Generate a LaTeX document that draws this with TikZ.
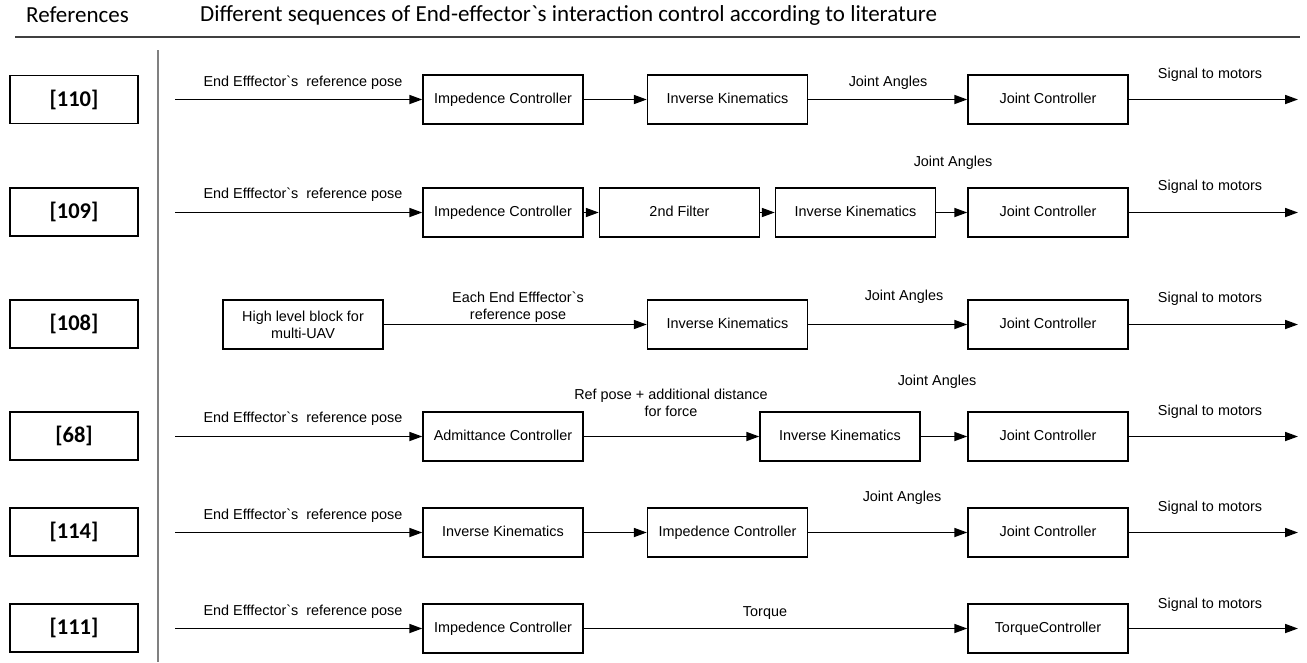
\documentclass[tikz,border=0pt]{standalone}
\usepackage{fontspec}
\setmainfont{Liberation Sans}
\newfontfamily\hdr{Carlito}
\usetikzlibrary{arrows.meta}
\newcommand{\EE}{End Efffector\textasciigrave s\ \ reference pose}
\begin{document}
\begin{tikzpicture}[x=1pt,y=-1pt,
 blkbase/.style={draw=black,line width=1.4pt,minimum width=160pt,minimum height=49pt,inner sep=0pt,font=\fontsize{14.4}{17}\selectfont,align=center},
 blk/.style={blkbase,text height=10.5pt,text depth=3pt},
 refbox/.style={draw=black,line width=1.4pt,minimum width=128pt,minimum height=48pt,inner sep=0pt,font=\hdr\bfseries\fontsize{22.5}{26}\selectfont},
 lbl/.style={font=\fontsize{14.4}{17}\selectfont,align=center,inner sep=0pt},
 hd/.style={font=\hdr\fontsize{23}{27}\selectfont,inner sep=0pt},
 flow/.style={line width=1.7pt,-{Triangle[length=13pt,width=9pt]}},
]
\useasboundingbox (0,0) rectangle (1307,662);
% header
\node[hd] (hRef) at (77.5,15) {References};
\node[hd,anchor=west] (hDiff) at (200,15) {Different sequences of End-effector\textasciigrave s interaction control according to literature};
\coordinate (hl1) at (15,37);
\coordinate (hl2) at (1300,37);
\draw[line width=1.2pt,black!75] (hl1) -- (hl2);
\coordinate (vl1) at (158,50);
\coordinate (vl2) at (158,662);
\draw[line width=1.5pt,black!50] (vl1) -- (vl2);
% reference boxes
\node[refbox] (r110) at (74,99.5) {[110]};
\node[refbox] (r109) at (74,212) {[109]};
\node[refbox] (r108) at (74,324) {[108]};
\node[refbox] (r68) at (74,436) {[68]};
\node[refbox] (r114) at (74,532) {[114]};
\node[refbox] (r111) at (74,628) {[111]};
% row 1
\coordinate (s1) at (175,99.5);
\node[blk] (a1) at (503,99.5) {Impedence Controller};
\node[blk] (b1) at (727.5,99.5) {Inverse Kinematics};
\node[blk] (c1) at (1048,99.5) {Joint Controller};
\coordinate (e1) at (1298,99.5);
\draw[flow] (s1) -- (a1);
\draw[flow] (a1) -- (b1);
\draw[flow] (b1) -- (c1);
\draw[flow] (c1) -- (e1);
\node[lbl] (l1a) at (303,83) {\EE};
\node[lbl] (l1b) at (888,83) {Joint Angles};
\node[lbl] (l1c) at (1210,75) {Signal to motors};
% row 2
\coordinate (s2) at (175,212.5);
\node[blk] (a2) at (503,212.5) {Impedence Controller};
\node[blk] (b2) at (679.5,212.5) {2nd Filter};
\node[blk] (c2) at (855.5,212.5) {Inverse Kinematics};
\node[blk] (d2) at (1048,212.5) {Joint Controller};
\coordinate (e2) at (1298,212.5);
\draw[flow] (s2) -- (a2);
\draw[flow] (a2) -- (b2);
\draw[flow] (b2) -- (c2);
\draw[flow] (c2) -- (d2);
\draw[flow] (d2) -- (e2);
\node[lbl] (l2a) at (303,195) {\EE};
\node[lbl] (l2b) at (953,163) {Joint Angles};
\node[lbl] (l2c) at (1210,187) {Signal to motors};
% row 3
\node[blkbase] (a3) at (303,324.5) {High level block for\\multi-UAV};
\node[blk] (b3) at (727.5,324.5) {Inverse Kinematics};
\node[blk] (c3) at (1048,324.5) {Joint Controller};
\coordinate (e3) at (1298,324.5);
\draw[flow] (a3) -- (b3);
\draw[flow] (b3) -- (c3);
\draw[flow] (c3) -- (e3);
\node[lbl] (l3a) at (518,307) {Each End Efffector\textasciigrave s\\reference pose};
\node[lbl] (l3b) at (904,297) {Joint Angles};
\node[lbl] (l3c) at (1210,299) {Signal to motors};
% row 4
\coordinate (s4) at (175,436.5);
\node[blk] (a4) at (503,436.5) {Admittance Controller};
\node[blk] (b4) at (840,436.5) {Inverse Kinematics};
\node[blk] (c4) at (1048,436.5) {Joint Controller};
\coordinate (e4) at (1298,436.5);
\draw[flow] (s4) -- (a4);
\draw[flow] (a4) -- (b4);
\draw[flow] (b4) -- (c4);
\draw[flow] (c4) -- (e4);
\node[lbl] (l4a) at (303,419) {\EE};
\node[lbl] (l4b) at (671,403) {Ref pose + additional distance\\for force};
\node[lbl] (l4c) at (937,382) {Joint Angles};
\node[lbl] (l4d) at (1210,412) {Signal to motors};
% row 5
\coordinate (s5) at (175,532.5);
\node[blk] (a5) at (503,532.5) {Inverse Kinematics};
\node[blk] (b5) at (727.5,532.5) {Impedence Controller};
\node[blk] (c5) at (1048,532.5) {Joint Controller};
\coordinate (e5) at (1298,532.5);
\draw[flow] (s5) -- (a5);
\draw[flow] (a5) -- (b5);
\draw[flow] (b5) -- (c5);
\draw[flow] (c5) -- (e5);
\node[lbl] (l5a) at (303,516) {\EE};
\node[lbl] (l5b) at (902,498) {Joint Angles};
\node[lbl] (l5c) at (1210,508) {Signal to motors};
% row 6
\coordinate (s6) at (175,628.5);
\node[blk] (a6) at (503,628.5) {Impedence Controller};
\node[blk] (b6) at (1048,628.5) {TorqueController};
\coordinate (e6) at (1298,628.5);
\draw[flow] (s6) -- (a6);
\draw[flow] (a6) -- (b6);
\draw[flow] (b6) -- (e6);
\node[lbl] (l6a) at (303,612) {\EE};
\node[lbl] (l6b) at (765,613) {Torque};
\node[lbl] (l6c) at (1210,605) {Signal to motors};
\end{tikzpicture}
\end{document}
